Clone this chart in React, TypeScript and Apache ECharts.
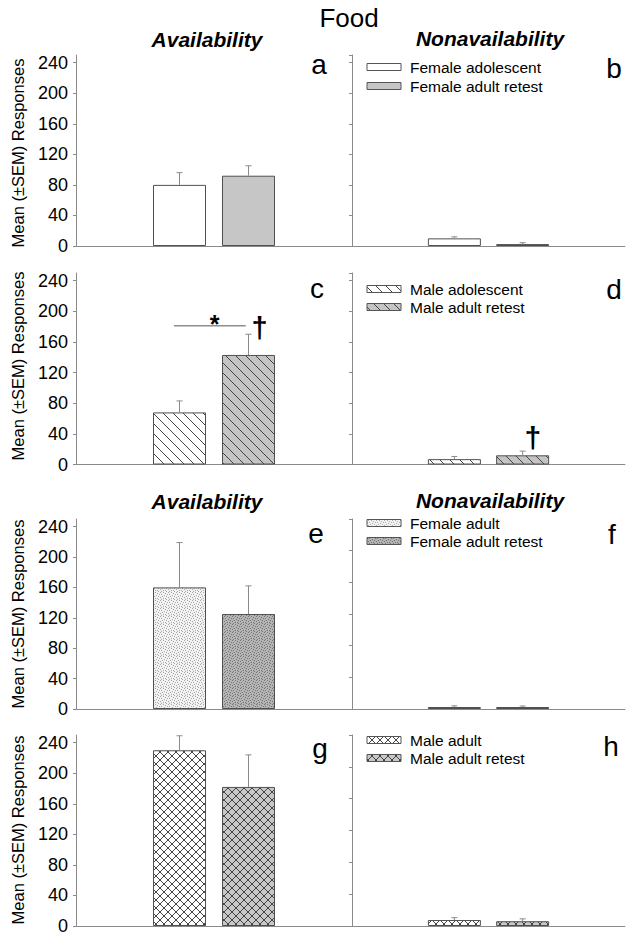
import React, { useEffect, useRef } from 'react';
import * as echarts from 'echarts';

// ---------- data ----------
const chartTitle = 'Food';
const headingLeft = 'Availability';
const headingRight = 'Nonavailability';
const yAxisTitle = 'Mean (±SEM) Responses';
const panelLetters = ['a', 'b', 'c', 'd', 'e', 'f', 'g', 'h'];
const yTickStep = 40;
const yTickTop = 240;

// groups per row (legend names)
const row1Groups = ['Female adolescent', 'Female adult retest'];
const row2Groups = ['Male adolescent', 'Male adult retest'];
const row3Groups = ['Female adult', 'Female adult retest'];
const row4Groups = ['Male adult', 'Male adult retest'];

// Availability (left panels): means and mean+SEM
const availMeans = [
  [80, 92],
  [68, 143],
  [160, 125],
  [230, 182],
];
const availUpper = [
  [96, 105],
  [83, 170],
  [219, 162],
  [249, 224],
];
// Nonavailability (right panels)
const nonavailMeans = [
  [10, 2.5],
  [7, 12],
  [2.5, 2.5],
  [7.5, 6],
];
const nonavailUpper = [
  [12, 4.3],
  [10.5, 17.5],
  [4, 3.8],
  [10.5, 9],
];
// bar positions on the hidden x scale (0..4)
const barX = [1.5, 2.5];

// significance annotations
const sigLineC = [[1.42, 181], [2.46, 181]];
const annotations = [
  { panel: 2, x: 2.01, y: 183, text: '*', size: 25 },
  { panel: 2, x: 2.66, y: 178, text: '†', size: 29 },
  { panel: 3, x: 2.65, y: 35, text: '†', size: 30 },
];

const FONT = 'Liberation Sans, Arial, Helvetica, sans-serif';

function tile(size: number, bg: string, draw: (ctx: CanvasRenderingContext2D, s: number) => void) {
  const c = document.createElement('canvas');
  c.width = size;
  c.height = size;
  const ctx = c.getContext('2d') as CanvasRenderingContext2D;
  ctx.fillStyle = bg;
  ctx.fillRect(0, 0, size, size);
  draw(ctx, size);
  return { image: c, repeat: 'repeat', imageWidth: size, imageHeight: size } as any;
}

const stippleDots = [
  [0, 0], [3, 0], [5, 1], [1, 2], [4, 3], [2, 4], [6, 4], [0, 5], [5, 6], [3, 6], [7, 2], [1, 7], [6, 7],
];

function makeFills() {
  const diag = (bg: string) =>
    tile(10, bg, (ctx, s) => {
      ctx.strokeStyle = '#444';
      ctx.lineWidth = 1;
      ctx.beginPath();
      ctx.moveTo(-1, -1);
      ctx.lineTo(s + 1, s + 1);
      ctx.stroke();
    });
  const cross = (bg: string) =>
    tile(8, bg, (ctx, s) => {
      ctx.strokeStyle = '#444';
      ctx.lineWidth = 1;
      ctx.beginPath();
      ctx.moveTo(-1, -1);
      ctx.lineTo(s + 1, s + 1);
      ctx.moveTo(s + 1, -1);
      ctx.lineTo(-1, s + 1);
      ctx.stroke();
    });
  const stipple = (bg: string, dot: string) =>
    tile(8, bg, (ctx) => {
      ctx.fillStyle = dot;
      stippleDots.forEach(([x, y]) => ctx.fillRect(x, y, 1, 1));
    });
  return [
    ['#ffffff', '#c6c6c6'],
    [diag('#ffffff'), diag('#c4c4c4')],
    [stipple('#f2f2f2', '#a8a8a8'), stipple('#b4b4b4', '#757575')],
    [cross('#ffffff'), cross('#c8c8c8')],
  ];
}

const rows = [
  { top: 55, height: 191, leftMax: 250, rightMax: 250 },
  { top: 273, height: 191.5, leftMax: 250, rightMax: 250 },
  { top: 519, height: 190, leftMax: 250, rightMax: 240 },
  { top: 735, height: 191, leftMax: 250, rightMax: 240 },
];
const letterPos = [
  [319, 64], [614, 68],
  [317, 288], [614, 289],
  [316, 533], [612, 534],
  [320, 748], [611, 746],
];
const legendPos = [
  [367, 67, 86],
  [367, 289, 307],
  [367, 523, 541],
  [367, 740, 758],
];
const yTitleCenters = [153, 366, 614, 830];

export default function App() {
  const ref = useRef<HTMLDivElement>(null);
  useEffect(() => {
    if (!ref.current) return;
    const chart = echarts.init(ref.current, null, { renderer: 'svg' });
    const fills = makeFills();
    const groups = [row1Groups, row2Groups, row3Groups, row4Groups];
    const axisColor = '#8a8a8a';
    const grid: any[] = [];
    const xAxis: any[] = [];
    const yAxis: any[] = [];
    const series: any[] = [];
    const graphic: any[] = [];

    rows.forEach((row, r) => {
      [0, 1].forEach((side) => {
        const i = r * 2 + side;
        grid.push({
          left: side ? 352 : 76,
          width: side ? 273 : 276,
          top: row.top,
          height: row.height,
        });
        xAxis.push({
          type: 'value', gridIndex: i, min: 0, max: 4,
          axisLine: { show: true, lineStyle: { color: axisColor, width: 1 } },
          axisTick: { show: false }, axisLabel: { show: false }, splitLine: { show: false },
        });
        yAxis.push({
          type: 'value', gridIndex: i, min: 0,
          max: side ? row.rightMax : row.leftMax,
          interval: yTickStep,
          axisLine: { show: true, lineStyle: { color: axisColor, width: 1 } },
          axisTick: { show: true, inside: false, length: 3, lineStyle: { color: axisColor } },
          axisLabel: {
            show: side === 0,
            showMaxLabel: false,
            margin: 8,
            fontSize: 18,
            color: '#000',
            fontFamily: FONT,
            formatter: (v: number) => (v % yTickStep === 0 && v <= yTickTop ? String(v) : ''),
          },
          splitLine: { show: false },
        });
        const means = side ? nonavailMeans[r] : availMeans[r];
        const upper = side ? nonavailUpper[r] : availUpper[r];
        series.push({
          type: 'bar', xAxisIndex: i, yAxisIndex: i, barWidth: 53,
          data: means.map((v, k) => ({
            value: [barX[k], v],
            itemStyle: { color: fills[r][k], borderColor: '#505050', borderWidth: 1 },
          })),
        });
        series.push({
          type: 'custom', xAxisIndex: i, yAxisIndex: i, z: 5,
          data: means.map((v, k) => [barX[k], v, upper[k]]),
          renderItem: (params: any, api: any) => {
            const p0 = api.coord([api.value(0), api.value(1)]);
            const p1 = api.coord([api.value(0), api.value(2)]);
            const st = { stroke: '#8a8a8a', lineWidth: 1 };
            return {
              type: 'group',
              children: [
                { type: 'line', shape: { x1: p0[0], y1: p0[1], x2: p1[0], y2: p1[1] }, style: st },
                { type: 'line', shape: { x1: p1[0] - 3, y1: p1[1], x2: p1[0] + 3, y2: p1[1] }, style: st },
              ],
            };
          },
        });
        const anns = annotations.filter((a) => a.panel === i);
        if (anns.length) {
          series.push({
            type: 'custom', xAxisIndex: i, yAxisIndex: i, z: 6,
            data: anns.map((a) => [a.x, a.y]),
            renderItem: (params: any, api: any) => {
              const p = api.coord([api.value(0), api.value(1)]);
              const a = anns[params.dataIndex];
              return {
                type: 'text', x: p[0], y: p[1],
                style: {
                  text: a.text, fontSize: a.size, fontWeight: 'bold',
                  fontFamily: FONT, fill: '#000', align: 'center', verticalAlign: 'middle',
                },
              };
            },
          });
        }
        if (i === 2) {
          series.push({
            type: 'line', xAxisIndex: i, yAxisIndex: i, data: sigLineC, symbol: 'none',
            lineStyle: { color: '#555', width: 1 }, z: 4,
          });
        }
        graphic.push({
          type: 'text', x: letterPos[i][0], y: letterPos[i][1],
          style: { text: panelLetters[i], fontSize: 28, fontFamily: FONT, fill: '#000', align: 'center', verticalAlign: 'middle' },
        });
      });
      const [lx, ly1, ly2] = legendPos[r];
      [ly1, ly2].forEach((ly, k) => {
        graphic.push({
          type: 'rect', shape: { x: lx, y: ly - 3.5, width: 34, height: 7 },
          style: { fill: fills[r][k], stroke: '#555', lineWidth: 1 },
        });
        graphic.push({
          type: 'text', x: lx + 43, y: ly,
          style: { text: groups[r][k], fontSize: 15.5, fontFamily: FONT, fill: '#000', align: 'left', verticalAlign: 'middle' },
        });
      });
      graphic.push({
        type: 'text', x: 18, y: yTitleCenters[r], rotation: Math.PI / 2,
        style: { text: yAxisTitle, fontSize: 16.5, fontFamily: FONT, fill: '#000', align: 'center', verticalAlign: 'middle' },
      });
    });

    graphic.push({
      type: 'text', x: 349, y: 18,
      style: { text: chartTitle, fontSize: 26, fontFamily: FONT, fill: '#000', align: 'center', verticalAlign: 'middle' },
    });
    [[207, 39, headingLeft], [490, 38, headingRight], [207, 501, headingLeft], [490, 500, headingRight]].forEach(
      ([x, y, t]) => {
        graphic.push({
          type: 'text', x, y,
          style: {
            text: t, fontSize: 21, fontWeight: 'bold', fontStyle: 'italic', fontFamily: FONT,
            fill: '#000', align: 'center', verticalAlign: 'middle',
          },
        });
      }
    );

    chart.setOption({
      animation: false,
      backgroundColor: '#ffffff',
      grid, xAxis, yAxis, series, graphic,
    });
    return () => chart.dispose();
  }, []);
  return (
    <div
      ref={ref}
      style={{ position: 'absolute', left: 0, top: 0, width: 635, height: 941, background: '#fff' }}
    />
  );
}
